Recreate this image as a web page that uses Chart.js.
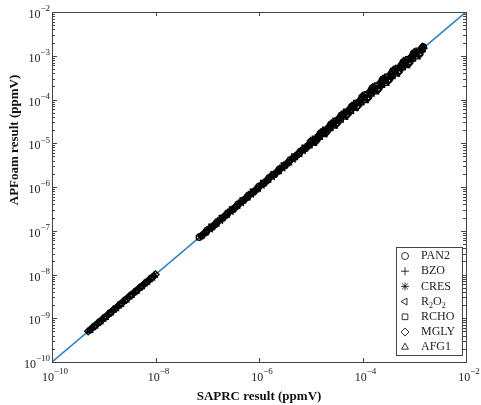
<!DOCTYPE html>
<html>
<head>
<meta charset="utf-8">
<script src="https://cdn.jsdelivr.net/npm/chart.js@4.4.0/dist/chart.umd.min.js"></script>
<style>
  html, body { margin: 0; padding: 0; background: #fff; }
  canvas { display: block; }
</style>
</head>
<body>
<canvas id="c" width="481" height="405"></canvas>
<script>
// [SAPRC, APFoam] pairs in ppmV
const PAN2 = [[7.0e-8,7.1e-8],[7.9e-8,7.7e-8],[1.0e-7,1.03e-7],[1.26e-7,1.22e-7],[1.58e-7,1.62e-7],[2.0e-7,1.95e-7],[2.5e-7,2.56e-7],[3.2e-7,3.1e-7],[4.0e-7,4.1e-7],[5.0e-7,4.9e-7],[6.3e-7,6.5e-7],[7.9e-7,7.7e-7],[1.0e-6,1.03e-6],[1.26e-6,1.22e-6],[1.58e-6,1.63e-6],[2.0e-6,1.94e-6],[2.5e-6,2.58e-6],[3.2e-6,3.1e-6],[4.0e-6,4.15e-6],[5.0e-6,4.85e-6],[6.3e-6,6.5e-6],[7.9e-6,7.6e-6],[1.0e-5,1.06e-5],[1.26e-5,1.19e-5],[1.58e-5,1.68e-5],[2.0e-5,1.88e-5],[2.5e-5,2.68e-5],[3.2e-5,2.95e-5],[4.0e-5,4.35e-5],[5.0e-5,4.6e-5],[6.3e-5,6.9e-5],[7.9e-5,7.2e-5],[1.0e-4,1.1e-4],[1.26e-4,1.14e-4],[1.58e-4,1.74e-4],[2.0e-4,1.8e-4],[2.5e-4,2.78e-4],[3.2e-4,2.9e-4],[4.0e-4,4.4e-4],[5.0e-4,4.5e-4],[6.3e-4,6.9e-4],[7.9e-4,7.2e-4],[1.0e-3,1.1e-3],[1.26e-3,1.16e-3],[1.5e-3,1.58e-3]];
const BZO = [[8.3e-8,8.5e-8],[1.05e-7,1.02e-7],[1.32e-7,1.36e-7],[1.66e-7,1.61e-7],[2.1e-7,2.16e-7],[2.6e-7,2.53e-7],[3.3e-7,3.4e-7],[4.2e-7,4.08e-7],[5.2e-7,5.35e-7],[6.6e-7,6.4e-7],[8.3e-7,8.55e-7],[1.05e-6,1.02e-6],[1.32e-6,1.36e-6],[1.66e-6,1.61e-6],[2.1e-6,2.17e-6],[2.6e-6,2.52e-6],[3.3e-6,3.42e-6],[4.2e-6,4.05e-6],[5.2e-6,5.4e-6],[6.6e-6,6.35e-6],[8.3e-6,8.7e-6],[1.05e-5,9.9e-6],[1.32e-5,1.4e-5],[1.66e-5,1.55e-5],[2.1e-5,2.25e-5],[2.6e-5,2.42e-5],[3.3e-5,3.58e-5],[4.2e-5,3.85e-5],[5.2e-5,5.7e-5],[6.6e-5,6.0e-5],[8.3e-5,9.1e-5],[1.05e-4,9.5e-5],[1.32e-4,1.45e-4],[1.66e-4,1.5e-4],[2.1e-4,2.32e-4],[2.6e-4,2.36e-4],[3.3e-4,3.65e-4],[4.2e-4,3.8e-4],[5.2e-4,5.75e-4],[6.6e-4,6.0e-4],[8.3e-4,9.1e-4],[1.05e-3,9.6e-4],[1.32e-3,1.42e-3],[1.55e-3,1.48e-3]];
const CRES = [[7.5e-8,7.6e-8],[8.7e-8,8.5e-8],[1.1e-7,1.13e-7],[1.38e-7,1.34e-7],[1.74e-7,1.79e-7],[2.2e-7,2.14e-7],[2.75e-7,2.83e-7],[3.5e-7,3.4e-7],[4.4e-7,4.53e-7],[5.5e-7,5.35e-7],[6.9e-7,7.1e-7],[8.7e-7,8.45e-7],[1.1e-6,1.13e-6],[1.38e-6,1.34e-6],[1.74e-6,1.8e-6],[2.2e-6,2.13e-6],[2.75e-6,2.85e-6],[3.5e-6,3.38e-6],[4.4e-6,4.56e-6],[5.5e-6,5.3e-6],[6.9e-6,7.2e-6],[8.7e-6,8.3e-6],[1.1e-5,1.17e-5],[1.38e-5,1.29e-5],[1.74e-5,1.87e-5],[2.2e-5,2.04e-5],[2.75e-5,2.98e-5],[3.5e-5,3.22e-5],[4.4e-5,4.8e-5],[5.5e-5,5.05e-5],[6.9e-5,7.55e-5],[8.7e-5,7.9e-5],[1.1e-4,1.21e-4],[1.38e-4,1.25e-4],[1.74e-4,1.92e-4],[2.2e-4,1.98e-4],[2.75e-4,3.05e-4],[3.5e-4,3.15e-4],[4.4e-4,4.85e-4],[5.5e-4,5.0e-4],[6.9e-4,7.6e-4],[8.7e-4,7.9e-4],[1.1e-3,1.2e-3],[1.38e-3,1.3e-3]];
const R2O2 = [[9.1e-8,9.3e-8],[1.15e-7,1.12e-7],[1.45e-7,1.49e-7],[1.82e-7,1.77e-7],[2.3e-7,2.37e-7],[2.9e-7,2.82e-7],[3.6e-7,3.71e-7],[4.6e-7,4.47e-7],[5.8e-7,5.97e-7],[7.2e-7,7.0e-7],[9.1e-7,9.37e-7],[1.15e-6,1.12e-6],[1.45e-6,1.5e-6],[1.82e-6,1.76e-6],[2.3e-6,2.38e-6],[2.9e-6,2.8e-6],[3.6e-6,3.74e-6],[4.6e-6,4.42e-6],[5.8e-6,6.05e-6],[7.2e-6,6.9e-6],[9.1e-6,9.6e-6],[1.15e-5,1.08e-5],[1.45e-5,1.55e-5],[1.82e-5,1.69e-5],[2.3e-5,2.48e-5],[2.9e-5,2.68e-5],[3.6e-5,3.92e-5],[4.6e-5,4.22e-5],[5.8e-5,6.35e-5],[7.2e-5,6.55e-5],[9.1e-5,1.0e-4],[1.15e-4,1.04e-4],[1.45e-4,1.6e-4],[1.82e-4,1.64e-4],[2.3e-4,2.54e-4],[2.9e-4,2.62e-4],[3.6e-4,3.98e-4],[4.6e-4,4.15e-4],[5.8e-4,6.4e-4],[7.2e-4,6.5e-4],[9.1e-4,1.0e-3],[1.15e-3,1.05e-3],[1.45e-3,1.52e-3]];
const RCHO = [[9.5e-8,9.3e-8],[1.2e-7,1.24e-7],[1.5e-7,1.45e-7],[1.9e-7,1.96e-7],[2.4e-7,2.33e-7],[3.0e-7,3.09e-7],[3.8e-7,3.69e-7],[4.8e-7,4.94e-7],[6.0e-7,5.83e-7],[7.6e-7,7.82e-7],[9.5e-7,9.22e-7],[1.2e-6,1.24e-6],[1.5e-6,1.45e-6],[1.9e-6,1.97e-6],[2.4e-6,2.32e-6],[3.0e-6,3.11e-6],[3.8e-6,3.66e-6],[4.8e-6,5.0e-6],[6.0e-6,5.75e-6],[7.6e-6,7.95e-6],[9.5e-6,9.0e-6],[1.2e-5,1.28e-5],[1.5e-5,1.4e-5],[1.9e-5,2.04e-5],[2.4e-5,2.22e-5],[3.0e-5,3.26e-5],[3.8e-5,3.49e-5],[4.8e-5,5.25e-5],[6.0e-5,5.5e-5],[7.6e-5,8.35e-5],[9.5e-5,8.65e-5],[1.2e-4,1.32e-4],[1.5e-4,1.36e-4],[1.9e-4,2.1e-4],[2.4e-4,2.17e-4],[3.0e-4,3.32e-4],[3.8e-4,3.44e-4],[4.8e-4,5.3e-4],[6.0e-4,5.45e-4],[7.6e-4,8.35e-4],[9.5e-4,8.65e-4],[1.2e-3,1.31e-3],[1.45e-3,1.4e-3]];
const MGLY = [[5.0e-10,5.05e-10],[5.6e-10,5.52e-10],[6.3e-10,6.38e-10],[7.1e-10,7.0e-10],[7.9e-10,8.0e-10],[8.9e-10,8.8e-10],[1.0e-9,1.01e-9],[1.12e-9,1.1e-9],[1.26e-9,1.28e-9],[1.41e-9,1.39e-9],[1.58e-9,1.6e-9],[1.78e-9,1.75e-9],[2.0e-9,2.03e-9],[2.24e-9,2.2e-9],[2.5e-9,2.54e-9],[2.8e-9,2.76e-9],[3.2e-9,3.25e-9],[3.5e-9,3.45e-9],[4.0e-9,4.06e-9],[4.5e-9,4.43e-9],[5.0e-9,5.08e-9],[5.6e-9,5.52e-9],[6.3e-9,6.4e-9],[7.1e-9,7.0e-9],[7.9e-9,8.02e-9],[8.9e-9,8.77e-9],[1.0e-8,1.0e-8],
  [1.0e-5,1.13e-5],[1.26e-5,1.1e-5],[1.58e-5,1.79e-5],[2.0e-5,1.74e-5],[2.5e-5,2.83e-5],[3.2e-5,2.78e-5],[4.0e-5,4.52e-5],[5.0e-5,4.35e-5],[6.3e-5,7.2e-5],[7.9e-5,6.85e-5],[1.0e-4,1.2e-4],[1.26e-4,1.05e-4],[1.58e-4,1.9e-4],[2.0e-4,1.67e-4],[2.5e-4,3.0e-4],[3.2e-4,2.67e-4],[4.0e-4,4.8e-4],[5.0e-4,4.17e-4],[6.3e-4,7.55e-4],[7.9e-4,6.6e-4],[1.0e-3,1.2e-3],[1.26e-3,1.05e-3],[1.45e-3,1.6e-3]];
const AFG1 = [[5.3e-10,5.25e-10],[6.0e-10,6.08e-10],[6.7e-10,6.6e-10],[7.5e-10,7.6e-10],[8.4e-10,8.3e-10],[9.4e-10,9.5e-10],[1.06e-9,1.04e-9],[1.19e-9,1.21e-9],[1.33e-9,1.31e-9],[1.5e-9,1.52e-9],[1.68e-9,1.65e-9],[1.88e-9,1.91e-9],[2.1e-9,2.07e-9],[2.37e-9,2.41e-9],[2.66e-9,2.62e-9],[3.0e-9,3.05e-9],[3.35e-9,3.3e-9],[3.76e-9,3.82e-9],[4.2e-9,4.14e-9],[4.7e-9,4.77e-9],[5.3e-9,5.22e-9],[6.0e-9,6.08e-9],[6.7e-9,6.6e-9],[7.5e-9,7.6e-9],[8.4e-9,8.3e-9],[9.4e-9,9.5e-9],
  [1.12e-5,9.8e-6],[1.41e-5,1.6e-5],[1.78e-5,1.55e-5],[2.24e-5,2.53e-5],[2.8e-5,2.44e-5],[3.5e-5,3.96e-5],[4.5e-5,3.9e-5],[5.6e-5,6.35e-5],[7.1e-5,6.2e-5],[8.9e-5,1.02e-4],[1.12e-4,9.3e-5],[1.41e-4,1.7e-4],[1.78e-4,1.48e-4],[2.24e-4,2.7e-4],[2.8e-4,2.33e-4],[3.5e-4,4.2e-4],[4.5e-4,3.75e-4],[5.6e-4,6.7e-4],[7.1e-4,5.9e-4],[8.9e-4,1.07e-3],[1.12e-3,9.3e-4],[1.38e-3,1.5e-3]];

const oneToOne = [[1e-10, 1e-10], [1e-2, 1e-2]];
const xTickExp = [-10, -8, -6, -4, -2];
const yTickExp = [-10, -9, -8, -7, -6, -5, -4, -3, -2];

const species = [
  { label: "PAN2", data: PAN2, style: "circle", rot: 0, r: 3 },
  { label: "BZO", data: BZO, style: "cross", rot: 0, r: 3.5 },
  { label: "CRES", data: CRES, style: "star", rot: 0, r: 3.5 },
  { label: "R2O2", data: R2O2, style: "triangle", rot: -90, r: 3.5 },
  { label: "RCHO", data: RCHO, style: "rect", rot: 0, r: 3.5 },
  { label: "MGLY", data: MGLY, style: "rectRot", rot: 0, r: 3.5 },
  { label: "AFG1", data: AFG1, style: "triangle", rot: 0, r: 3.5 }
];

const toXY = arr => arr.map(p => ({ x: p[0], y: p[1] }));

const datasets = species.map(s => ({
  label: s.label,
  data: toXY(s.data),
  pointStyle: s.style,
  rotation: s.rot,
  pointRadius: s.r,
  borderColor: "#000",
  backgroundColor: "rgba(0,0,0,0)",
  pointBorderWidth: 1.4,
  showLine: false,
  order: 1
}));
datasets.push({
  label: "1:1",
  data: toXY(oneToOne),
  showLine: true,
  borderColor: "#1f80cc",
  borderWidth: 1.5,
  pointRadius: 0,
  order: 10
});

const SERIF = "'Liberation Serif', 'Times New Roman', serif";
const AX = "#444";

function drawPow(ctx, e, x, y, align) {
  const base = "10", sup = "\u2212" + Math.abs(e);
  ctx.font = "12px " + SERIF;
  const wb = ctx.measureText(base).width;
  ctx.font = "9px " + SERIF;
  const ws = ctx.measureText(sup).width;
  let x0 = align === "right" ? x - wb - ws : x - (wb + ws) / 2;
  ctx.textAlign = "left";
  ctx.textBaseline = "middle";
  ctx.font = "12px " + SERIF;
  ctx.fillText(base, x0, y);
  ctx.font = "9px " + SERIF;
  ctx.fillText(sup, x0 + wb, y - 6);
}

const matlabAxes = {
  id: "matlabAxes",
  afterDraw(chart) {
    const ctx = chart.ctx;
    const a = chart.chartArea;
    const xs = chart.scales.x, ys = chart.scales.y;
    ctx.save();
    ctx.strokeStyle = AX;
    ctx.lineWidth = 1;
    ctx.strokeRect(Math.round(a.left) + 0.5, Math.round(a.top) + 0.5,
      Math.round(a.right - a.left), Math.round(a.bottom - a.top));

    ctx.beginPath();
    xTickExp.forEach(e => {
      const px = Math.round(xs.getPixelForValue(Math.pow(10, e))) + 0.5;
      ctx.moveTo(px, a.bottom); ctx.lineTo(px, a.bottom - 4);
      ctx.moveTo(px, a.top); ctx.lineTo(px, a.top + 4);
    });
    yTickExp.forEach(e => {
      const py = Math.round(ys.getPixelForValue(Math.pow(10, e))) + 0.5;
      ctx.moveTo(a.left, py); ctx.lineTo(a.left + 5, py);
      ctx.moveTo(a.right, py); ctx.lineTo(a.right - 5, py);
      if (e < -2) {
        for (let m = 2; m <= 9; m++) {
          const pm = Math.round(ys.getPixelForValue(m * Math.pow(10, e))) + 0.5;
          ctx.moveTo(a.left, pm); ctx.lineTo(a.left + 3, pm);
          ctx.moveTo(a.right, pm); ctx.lineTo(a.right - 3, pm);
        }
      }
    });
    ctx.stroke();

    ctx.fillStyle = "#222";
    xTickExp.forEach(e => {
      drawPow(ctx, e, xs.getPixelForValue(Math.pow(10, e)) + 3, a.bottom + 16, "center");
    });
    yTickExp.forEach(e => {
      drawPow(ctx, e, a.left - 2, ys.getPixelForValue(Math.pow(10, e)) + 3, "right");
    });

    // axis titles
    ctx.fillStyle = "#111";
    ctx.font = "bold 13px " + SERIF;
    ctx.textAlign = "center";
    ctx.textBaseline = "middle";
    ctx.fillText("SAPRC result (ppmV)", (a.left + a.right) / 2, 397);
    ctx.save();
    ctx.translate(15, 140);
    ctx.rotate(-Math.PI / 2);
    ctx.fillText("APFoam result (ppmV)", 0, 0);
    ctx.restore();

    // legend box
    const L = 396, T = 247, R = 462, B = 355;
    ctx.fillStyle = "#fff";
    ctx.fillRect(L, T, R - L, B - T);
    ctx.strokeStyle = AX;
    ctx.lineWidth = 1;
    ctx.strokeRect(L + 0.5, T + 0.5, R - L, B - T);
    species.forEach((s, i) => {
      const y = 256 + i * 15.2;
      ctx.strokeStyle = "#000";
      ctx.fillStyle = "rgba(0,0,0,0)";
      ctx.lineWidth = 0.8;
      if (Chart.helpers && Chart.helpers.drawPoint) {
        Chart.helpers.drawPoint(ctx, { pointStyle: s.style, radius: s.r + 0.5, rotation: s.rot, borderWidth: 0.8 }, 405, y);
      }
      ctx.fillStyle = "#222";
      ctx.textAlign = "left";
      ctx.textBaseline = "middle";
      if (s.label === "R2O2") {
        let x = 421;
        ctx.font = "12px " + SERIF;
        ctx.fillText("R", x, y); x += ctx.measureText("R").width;
        ctx.font = "8px " + SERIF;
        ctx.fillText("2", x, y + 4); x += ctx.measureText("2").width;
        ctx.font = "12px " + SERIF;
        ctx.fillText("O", x, y); x += ctx.measureText("O").width;
        ctx.font = "8px " + SERIF;
        ctx.fillText("2", x, y + 4);
      } else {
        ctx.font = "12px " + SERIF;
        ctx.fillText(s.label, 421, y);
      }
    });
    ctx.restore();
  }
};

new Chart(document.getElementById("c"), {
  type: "scatter",
  data: { datasets: datasets },
  options: {
    responsive: false,
    animation: false,
    devicePixelRatio: 1,
    layout: { padding: { top: 12, right: 15, left: 0, bottom: 0 } },
    plugins: { legend: { display: false }, tooltip: { enabled: false } },
    scales: {
      x: {
        type: "logarithmic", min: 1e-10, max: 1e-2,
        ticks: { display: false }, grid: { display: false }, border: { display: false },
        afterFit: s => { s.height = 43; }
      },
      y: {
        type: "logarithmic", min: 1e-10, max: 1e-2,
        ticks: { display: false }, grid: { display: false }, border: { display: false },
        afterFit: s => { s.width = 52; }
      }
    }
  },
  plugins: [matlabAxes]
});
</script>
</body>
</html>
